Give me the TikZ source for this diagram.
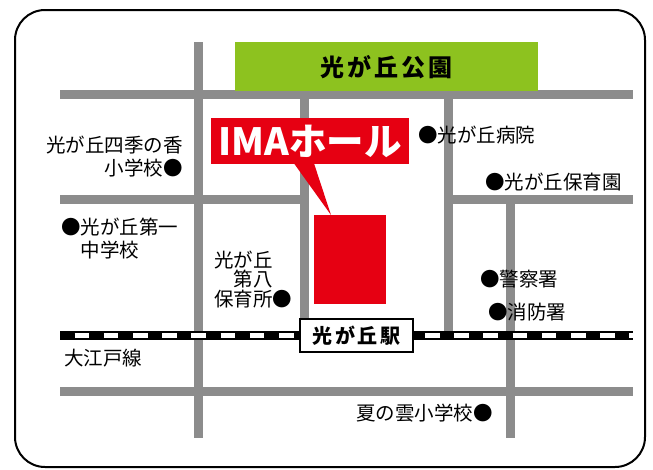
\documentclass[tikz,border=0pt]{standalone}
\usepackage{fontspec}
\newfontfamily\jp{Noto Sans CJK JP}
\newfontfamily\jpsp[LetterSpace=12]{Noto Sans CJK JP}
\usetikzlibrary{calc}
\definecolor{roadgray}{RGB}{140,140,140}
\definecolor{imared}{RGB}{230,0,18}
\definecolor{parkgreen}{RGB}{141,194,31}
\begin{document}
\begin{tikzpicture}[x=1pt,y=-1pt,
  road/.style={draw=roadgray, line width=9pt},
  lbl/.style={font=\jp\fontsize{19.5}{23}\selectfont, inner sep=0pt},
  lblthree/.style={font=\jp\fontsize{19.5}{19.5}\selectfont, inner sep=0pt}]
\useasboundingbox (0,0) rectangle (653,469);
\fill[white] (0,0) rectangle (653,469);
\draw[line width=2pt, rounded corners=30pt] (15,10) rectangle (645,467);
% roads
\draw[road] (60,94) -- (633,94);
\draw[road] (198,42) -- (198,438);
\draw[road] (304.5,94) -- (304.5,319);
\draw[road] (448,94) -- (448,331);
\draw[road] (510.5,199) -- (510.5,438);
\draw[road] (60,199) -- (304.5,199);
\draw[road] (448,199) -- (633,199);
\draw[road] (60,391) -- (633,391);
% railway
\fill[black] (60,331) rectangle (633,340);
\draw[white, line width=5.5pt, dash pattern=on 14.6pt off 14.6pt, dash phase=14.6pt] (60,335.5) -- (633,335.5);
% park
\node[fill=parkgreen, minimum width=303pt, minimum height=49pt, inner sep=0pt, anchor=north west,
  font=\jpsp\bfseries\fontsize{24}{24}\selectfont] (park) at (235,42) {光が丘公園};
% building
\node[fill=imared, minimum width=72pt, minimum height=89pt, inner sep=0pt, anchor=north west] (bldg) at (314,215) {};
% IMA callout
\node[fill=imared, minimum width=198pt, minimum height=46pt, inner sep=0pt, anchor=north west, text=white,
  font=\jp\bfseries\fontsize{37.5}{37.5}\selectfont] (ima) at (211,118) {IMAホール};
\fill[imared] ($(ima.south west)+(83,-1)$) -- ($(ima.south west)+(103,-1)$) -- ($(bldg.north west)+(17,0)$) -- cycle;
% station
\node[draw, line width=1.5pt, fill=white, minimum width=113pt, minimum height=33pt, inner sep=0pt,
  font=\jpsp\bfseries\fontsize{20}{20}\selectfont] (station) at (356.5,335.5) {光が丘駅};
% labels
\node[lbl, anchor=east, align=right] (shiki) at (183,157) {光が丘四季の香\\小学校●};
\node[lbl, anchor=west, align=left] (daiichi) at (61,238.5) {●光が丘第一\\　中学校};
\node[lblthree, anchor=west, align=left] (hoikusho) at (214,279.5) {光が丘\\　第八\\保育所●};
\node[lbl, anchor=west] (oedo) at (64,358) {大江戸線};
\node[lbl, anchor=west] (byoin) at (418,135) {●光が丘病院};
\node[lbl, anchor=west] (hoikuen) at (485,182) {●光が丘保育園};
\node[lbl, anchor=west] (keisatsu) at (480,279) {●警察署};
\node[lbl, anchor=west] (shobo) at (488,312) {●消防署};
\node[lbl, anchor=east] (natsu) at (493,413) {夏の雲小学校●};
\end{tikzpicture}
\end{document}
